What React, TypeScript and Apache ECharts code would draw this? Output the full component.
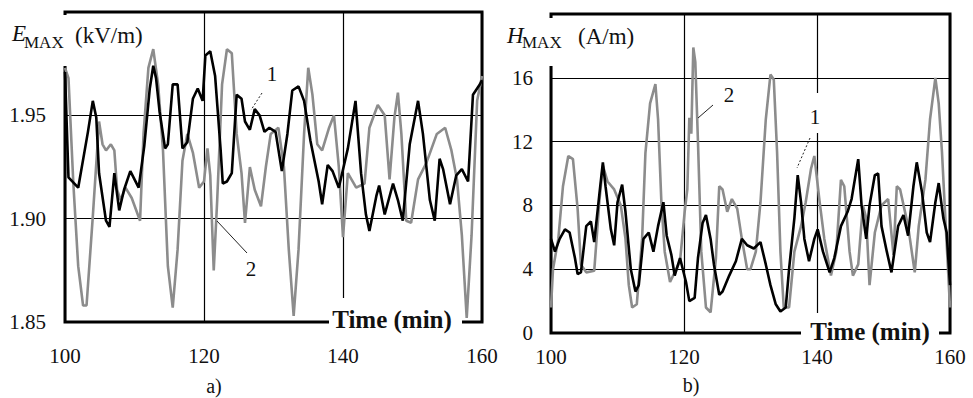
import React, { useEffect, useRef } from "react";
import * as echarts from "echarts";

// ---- tick labels ----
const timeTicks = [100, 120, 140, 160];
const eTicks = [1.85, 1.9, 1.95];
const hTicks = [0, 4, 8, 12, 16];

// ---- E_MAX, curve 1 (black) ----
const e1Time = [100, 100.5, 101.9, 103.3, 104, 104.5, 104.9, 105.9, 106.4, 107.1, 107.8, 108.5, 109.4, 110.6, 111.4, 112.2, 112.7, 113.1, 113.6, 114.4, 114.8, 115.5, 116.2, 116.9, 117.6, 118.4, 119.1, 119.8, 120.2, 120.9, 121.6, 122.4, 122.7, 123.3, 124, 124.7, 125.4, 125.9, 126.6, 127.3, 128, 128.7, 129.4, 130.3, 131.2, 132, 132.7, 133.6, 134.4, 135.3, 136.5, 137, 137.8, 138.5, 139.4, 140.7, 141.8, 142.6, 143.3, 143.8, 144.8, 145.2, 146, 147.2, 147.9, 148.6, 149.6, 150.8, 151.5, 152.5, 153.2, 153.9, 154.4, 155.4, 156.3, 157.1, 158, 158.7, 159.7, 160];
const e1Value = [1.971, 1.92, 1.915, 1.942, 1.957, 1.949, 1.922, 1.899, 1.896, 1.922, 1.904, 1.914, 1.923, 1.915, 1.935, 1.963, 1.974, 1.968, 1.952, 1.934, 1.936, 1.965, 1.965, 1.934, 1.937, 1.958, 1.963, 1.957, 1.979, 1.981, 1.969, 1.933, 1.917, 1.918, 1.922, 1.96, 1.958, 1.947, 1.943, 1.953, 1.95, 1.942, 1.944, 1.942, 1.923, 1.941, 1.962, 1.964, 1.957, 1.938, 1.918, 1.907, 1.926, 1.923, 1.915, 1.934, 1.957, 1.922, 1.902, 1.894, 1.911, 1.916, 1.902, 1.917, 1.909, 1.899, 1.936, 1.957, 1.941, 1.909, 1.899, 1.929, 1.924, 1.907, 1.921, 1.924, 1.918, 1.96, 1.965, 1.967];

// ---- E_MAX, curve 2 (grey) ----
const e2Time = [100, 100.5, 101.2, 101.9, 102.6, 103.1, 104, 104.9, 105.4, 105.9, 106.6, 107.1, 107.5, 108, 108.7, 109.6, 110.8, 111.3, 112, 112.7, 113.4, 114.1, 114.8, 115.5, 116.2, 116.9, 117.6, 118.4, 119.3, 120, 120.5, 120.9, 121.4, 121.9, 122.6, 123.3, 124, 124.7, 125.4, 125.9, 126.6, 127.3, 128.2, 128.9, 129.6, 130.7, 131.5, 132.2, 132.9, 133.6, 134.4, 135, 135.6, 136.3, 137, 138, 138.7, 139.4, 140, 140.7, 141.9, 143.1, 143.8, 145, 146, 146.7, 147.4, 147.9, 148.4, 149.1, 149.8, 150.8, 152, 153.5, 154.7, 155.6, 156.4, 157.1, 157.8, 158.5, 159.3, 160];
const e2Value = [1.973, 1.968, 1.917, 1.877, 1.858, 1.858, 1.901, 1.947, 1.936, 1.933, 1.936, 1.933, 1.914, 1.909, 1.915, 1.91, 1.899, 1.941, 1.973, 1.982, 1.965, 1.933, 1.877, 1.857, 1.885, 1.928, 1.941, 1.932, 1.915, 1.918, 1.934, 1.921, 1.875, 1.909, 1.965, 1.982, 1.98, 1.941, 1.922, 1.898, 1.925, 1.914, 1.906, 1.925, 1.941, 1.944, 1.925, 1.885, 1.853, 1.885, 1.941, 1.973, 1.96, 1.936, 1.933, 1.944, 1.95, 1.925, 1.891, 1.922, 1.915, 1.917, 1.944, 1.955, 1.95, 1.919, 1.949, 1.961, 1.941, 1.899, 1.898, 1.919, 1.927, 1.941, 1.944, 1.933, 1.919, 1.892, 1.852, 1.892, 1.957, 1.969];

// ---- H_MAX, curve 1 (black) ----
const h1Time = [100, 100.6, 101.3, 102.1, 102.8, 103.6, 104, 104.5, 105.3, 106, 106.5, 107.3, 107.8, 108.2, 109, 109.5, 110, 110.7, 111.2, 112, 112.7, 113.2, 113.9, 114.7, 115.4, 116.1, 116.9, 117.4, 118.1, 118.6, 119.4, 120.3, 120.8, 121.6, 122.1, 122.8, 123.3, 124, 124.5, 125.3, 125.8, 126.8, 127.8, 128.7, 129.5, 130.5, 131.5, 132.3, 133, 133.8, 134.5, 135.3, 135.8, 136.6, 137.1, 137.6, 138.1, 138.8, 139.6, 140.1, 140.9, 141.9, 142.6, 143.6, 144.6, 145.2, 146.2, 146.7, 147.4, 147.9, 148.7, 149.2, 149.7, 150.5, 151.2, 152.2, 153, 153.7, 154.5, 155, 155.8, 156.5, 157, 157.8, 158.3, 159, 159.5, 160];
const h1Value = [5.9, 5.1, 5.9, 6.5, 6.3, 4.7, 3.7, 3.8, 6.7, 7.0, 5.7, 8.8, 10.7, 9.2, 6.5, 5.5, 8.2, 9.3, 7.6, 4.0, 2.6, 3.0, 5.9, 6.3, 5.1, 6.7, 8.2, 6.1, 4.9, 3.6, 4.7, 3.2, 2.0, 2.2, 4.7, 6.9, 7.4, 5.9, 4.3, 2.4, 2.6, 3.6, 4.5, 5.9, 5.5, 5.3, 5.7, 4.3, 3.0, 1.8, 1.35, 1.6, 4.0, 7.2, 9.9, 8.2, 5.9, 4.5, 5.9, 6.5, 5.1, 3.8, 4.7, 6.7, 7.6, 8.4, 10.9, 8.0, 5.9, 8.0, 9.9, 10.0, 6.7, 5.1, 3.8, 6.7, 7.4, 6.1, 9.2, 10.7, 8.8, 6.3, 5.7, 8.2, 9.4, 7.2, 6.3, 3.0];

// ---- H_MAX, curve 2 (grey) ----
const h2Time = [100, 100.3, 101.1, 101.8, 102.6, 103.3, 104, 104.5, 105.3, 106.5, 107.3, 107.8, 108.5, 109.5, 110.5, 111.2, 111.7, 112.2, 112.9, 113.7, 114.2, 114.9, 115.7, 116.1, 116.6, 117.1, 117.9, 118.6, 119.4, 120.1, 120.5, 120.8, 121.1, 121.4, 121.7, 122.1, 122.6, 123.3, 124, 124.8, 125.3, 125.8, 126.5, 127.2, 128, 128.7, 129.5, 130, 130.8, 131.5, 132.3, 133, 133.5, 134, 134.5, 135, 135.8, 136.6, 137.6, 138.3, 139.1, 139.6, 140.4, 141.1, 142.1, 142.9, 143.6, 144.1, 144.9, 145.4, 146.2, 146.9, 147.4, 147.9, 148.7, 149.7, 150.7, 151.5, 152, 152.5, 153.7, 154.7, 155.3, 156.3, 157, 157.8, 158.3, 158.8, 159.3, 160];
const h2Value = [1.6, 4.0, 5.9, 9.2, 11.1, 10.9, 7.8, 4.3, 3.8, 3.9, 8.4, 10.5, 9.5, 9.0, 8.0, 5.9, 3.0, 1.6, 1.8, 5.9, 11.3, 14.4, 15.6, 13.4, 8.2, 5.1, 3.2, 3.8, 4.5, 7.6, 9.0, 13.5, 12.5, 17.9, 17.0, 12.0, 5.1, 1.6, 1.3, 4.7, 9.2, 9.0, 7.6, 8.4, 7.8, 5.9, 4.0, 4.0, 5.1, 8.2, 13.4, 16.2, 15.9, 11.3, 5.1, 1.6, 1.6, 5.1, 6.7, 8.2, 10.3, 11.1, 8.2, 5.9, 3.6, 5.1, 9.6, 9.2, 5.1, 3.6, 4.3, 8.0, 7.2, 3.0, 6.3, 8.0, 8.4, 4.9, 9.2, 9.0, 6.7, 3.8, 6.7, 9.6, 13.4, 16.0, 14.4, 11.3, 7.2, 1.6];

const FONT = "Liberation Serif";
const BLACK = "#000000";
const GREY = "#8c8c8c";

const pairs = (t: number[], v: number[]) => t.map((x, i) => [x, v[i]]);

function xAxisCfg(gridIndex: number, margin: number) {
  return {
    type: "value",
    gridIndex,
    min: 100,
    max: 160,
    interval: 20,
    axisLine: { show: false },
    axisTick: { show: false },
    splitLine: { show: true, lineStyle: { color: BLACK, width: 1.2 } },
    axisLabel: {
      margin,
      fontSize: 21,
      fontFamily: FONT,
      color: "#111",
      showMinLabel: true,
      showMaxLabel: true,
      formatter: (v: number) => (timeTicks.includes(v) ? String(v) : ""),
    },
  };
}

function txt(
  text: string,
  x: number,
  y: number,
  size: number,
  opts: { italic?: boolean; bold?: boolean; align?: string } = {}
) {
  return {
    type: "text",
    x,
    y,
    z: 100,
    style: {
      text,
      fontFamily: FONT,
      fontSize: size,
      fontStyle: opts.italic ? "italic" : "normal",
      fontWeight: opts.bold ? "bold" : "normal",
      fill: "#111",
      textAlign: opts.align || "left",
      textVerticalAlign: "middle",
    },
  };
}

function rect(x: number, y: number, w: number, h: number) {
  return { type: "rect", z: 90, shape: { x, y, width: w, height: h }, style: { fill: "#fff" } };
}

function leader(x1: number, y1: number, x2: number, y2: number, dashed: boolean) {
  return {
    type: "line",
    z: 100,
    shape: { x1, y1, x2, y2 },
    style: { stroke: "#222", lineWidth: 1, lineDash: dashed ? [2, 2] : null },
  };
}

export default function App() {
  const ref = useRef<HTMLDivElement>(null);

  useEffect(() => {
    if (!ref.current) return;
    const chart = echarts.init(ref.current, undefined, { renderer: "svg" });
    const option: any = {
      animation: false,
      backgroundColor: "#ffffff",
      grid: [
        { left: 65, top: 12, width: 417, height: 310, show: true, borderColor: BLACK, borderWidth: 3, backgroundColor: "transparent" },
        { left: 551, top: 14, width: 399, height: 319, show: true, borderColor: BLACK, borderWidth: 3, backgroundColor: "transparent" },
      ],
      xAxis: [xAxisCfg(0, 23), xAxisCfg(1, 13)],
      yAxis: [
        {
          type: "value",
          gridIndex: 0,
          min: 1.85,
          max: 2.0,
          interval: 0.05,
          axisLine: { show: false },
          axisTick: { show: false },
          splitLine: { show: true, lineStyle: { color: BLACK, width: 1.2 } },
          axisLabel: {
            margin: 19,
            fontSize: 21,
            fontFamily: FONT,
            color: "#111",
            formatter: (v: number) => {
              const hit = eTicks.find((t) => Math.abs(t - v) < 1e-6);
              return hit !== undefined ? hit.toFixed(2) : "";
            },
          },
        },
        {
          type: "value",
          gridIndex: 1,
          min: 0,
          max: 20,
          interval: 4,
          axisLine: { show: false },
          axisTick: { show: false },
          splitLine: { show: true, lineStyle: { color: BLACK, width: 1.2 } },
          axisLabel: {
            margin: 18,
            fontSize: 21,
            fontFamily: FONT,
            color: "#111",
            formatter: (v: number) => (hTicks.includes(v) ? String(v) : ""),
          },
        },
      ],
      series: [
        { type: "line", name: "E2", xAxisIndex: 0, yAxisIndex: 0, data: pairs(e2Time, e2Value), symbol: "none", z: 2, lineStyle: { color: GREY, width: 2.6 } },
        { type: "line", name: "E1", xAxisIndex: 0, yAxisIndex: 0, data: pairs(e1Time, e1Value), symbol: "none", z: 3, lineStyle: { color: BLACK, width: 2.6 } },
        { type: "line", name: "H2", xAxisIndex: 1, yAxisIndex: 1, data: pairs(h2Time, h2Value), symbol: "none", z: 2, lineStyle: { color: GREY, width: 2.6 } },
        { type: "line", name: "H1", xAxisIndex: 1, yAxisIndex: 1, data: pairs(h1Time, h1Value), symbol: "none", z: 3, lineStyle: { color: BLACK, width: 2.6 } },
      ],
      graphic: {
        elements: [
          // gaps in frame / grid lines
          rect(61, 15, 8, 51),
          rect(547, 18, 8, 48),
          rect(329, 298, 133, 42),
          rect(801, 313, 138, 33),
          rect(812, 93, 12, 40),
          // titles
          txt("E", 12, 33, 23, { italic: true }),
          txt("MAX", 24, 42, 17),
          txt("(kV/m)", 75, 35, 23),
          txt("H", 507, 35, 23, { italic: true }),
          txt("MAX", 522, 42, 17),
          txt("(A/m)", 578, 36, 23),
          // axis titles
          txt("Time (min)", 392, 319, 25, { bold: true, align: "center" }),
          txt("Time (min)", 870, 331, 25, { bold: true, align: "center" }),
          // curve labels
          txt("1", 272, 74, 21, { align: "center" }),
          leader(262, 93, 251, 110, true),
          txt("2", 251, 269, 21, { align: "center" }),
          leader(217, 221, 247, 253, false),
          txt("2", 729, 95, 21, { align: "center" }),
          leader(713, 105, 698, 118, false),
          txt("1", 815, 117, 21, { align: "center" }),
          leader(810, 138, 797, 168, true),
          // panel letters
          txt("a)", 214, 386, 20, { align: "center" }),
          txt("b)", 691, 385, 20, { align: "center" }),
        ],
      },
    };
    chart.setOption(option);
    return () => chart.dispose();
  }, []);

  return (
    <div
      ref={ref}
      style={{ position: "fixed", left: 0, top: 0, width: 973, height: 398, background: "#fff" }}
    />
  );
}
